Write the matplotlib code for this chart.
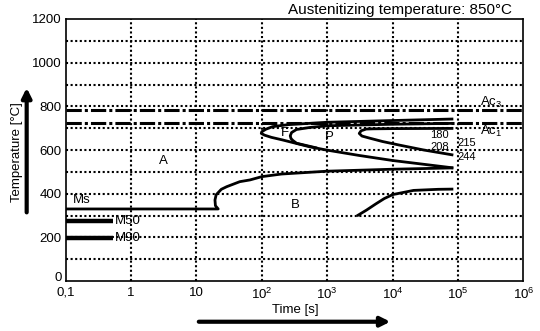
import numpy as np
import matplotlib
matplotlib.use("Agg")
import matplotlib.pyplot as plt
import matplotlib.transforms as mtransforms

plt.rcParams['font.family'] = ['Liberation Sans', 'DejaVu Sans']
plt.rcParams['mathtext.fontset'] = 'custom'
plt.rcParams['mathtext.rm'] = 'Liberation Sans'

# --- data (time in s, temperature in C) ---
ac3_temp = 782
ac1_temp = 724
ms_temp = 330
m50_temp = 276
m90_temp = 195
m_end_time = 0.52

# Ms line + bainite start curve
bs_time = [0.1, 21.5, 19.5, 19.2, 20, 24, 29, 46, 66, 100, 200, 1000, 10000, 85000]
bs_temp = [ms_temp, ms_temp, 345, 371, 395, 420, 432, 455, 463, 478, 490, 503, 512, 518]

# bainite finish
bf_time = [2840, 4000, 5530, 7500, 10100, 20900, 50000, 85000]
bf_temp = [298, 325, 353, 378, 396, 415, 420, 421]

# ferrite start (outer C-curve): upper branch -> nose -> lower branch
f_time = [85000, 10000, 1000, 250, 146, 115, 100, 98, 110, 140, 208, 535, 970, 3090, 10000, 85000]
f_temp = [742, 735, 727, 716, 707, 695, 684, 676, 668, 658, 646, 615, 600, 575, 552, 518]

# pearlite start curve
p_time = [85000, 10000, 1000, 535, 339, 285, 272, 280, 300, 340, 457, 700]
p_temp = [722, 718, 711, 703, 694, 680, 665, 652, 643, 631, 622, 609]

# pearlite finish curve (180/208)
pf_time = [85000, 10000, 5000, 3950, 3300, 3090, 3400, 4370, 7000, 12500, 30000, 85000]
pf_temp = [699, 698, 697, 696, 688, 676, 664, 655, 639, 623, 600, 577]

xticks = [0.1, 1, 10, 1e2, 1e3, 1e4, 1e5, 1e6]
xticklabels = ['0,1', '1', '10', r'10$^\mathregular{2}$', r'10$^\mathregular{3}$',
               r'10$^\mathregular{4}$', r'10$^\mathregular{5}$', r'10$^\mathregular{6}$']
yticks = [0, 200, 400, 600, 800, 1000, 1200]

fig = plt.figure(figsize=(5.4, 3.31), dpi=100)
ax = fig.add_axes([0.1217, 0.151, 0.8474, 0.7916])

ax.set_xscale('log')
ax.set_xlim(0.1, 1e6)
ax.set_ylim(0, 1200)

# dotted grid
for t in xticks[1:-1]:
    ax.axvline(t, color='black', lw=1.5, ls=(0, (1, 1.2)), zorder=1)
for T in range(100, 1200, 100):
    ax.axhline(T, color='black', lw=1.5, ls=(0, (1, 1.2)), zorder=1)

# critical temperatures
ax.axhline(ac3_temp, color='black', lw=2.2, ls=(0, (5, 1, 1, 1)), zorder=2)
ax.axhline(ac1_temp, color='black', lw=2.2, ls=(0, (5, 1, 1, 1)), zorder=2)

# martensite lines
ax.plot([0.1, m_end_time], [m50_temp, m50_temp], color='black', lw=3.2, solid_capstyle='butt')
ax.plot([0.1, m_end_time], [m90_temp, m90_temp], color='black', lw=3.2, solid_capstyle='butt')

for tt, TT in [(bs_time, bs_temp), (bf_time, bf_temp), (f_time, f_temp),
               (p_time, p_temp), (pf_time, pf_temp)]:
    ax.plot(tt, TT, color='black', lw=2.0, zorder=3, solid_capstyle='butt')

fs = 9.5
ax.text(0.13, 371, 'Ms', fontsize=fs, va='center')
ax.text(0.57, m50_temp, 'M50', fontsize=fs, va='center')
ax.text(0.57, m90_temp, 'M90', fontsize=fs, va='center')
ax.text(3.1, 550, 'A', fontsize=fs, ha='center', va='center')
ax.text(320, 348, 'B', fontsize=fs, ha='center', va='center')
ax.text(225, 678, 'F', fontsize=fs, ha='center', va='center')
ax.text(1060, 660, 'P', fontsize=fs, ha='center', va='center')
ax.text(72600, 669, '180', fontsize=8, ha='right', va='center')
ax.text(72600, 614, '208', fontsize=8, ha='right', va='center')
ax.text(99000, 632, '215', fontsize=8, ha='left', va='center')
ax.text(99000, 568, '244', fontsize=8, ha='left', va='center')
ax.text(216000, 820, r'Ac$_\mathregular{3}$', fontsize=fs, va='center')
ax.text(216000, 683, r'Ac$_\mathregular{1}$', fontsize=fs, va='center')

ax.set_xticks(xticks)
ax.set_xticklabels(xticklabels)
ax.xaxis.set_minor_locator(matplotlib.ticker.NullLocator())
ax.set_yticks(yticks)
ax.tick_params(length=0, labelsize=fs)
ax.tick_params(axis='x', pad=4)
ax.tick_params(axis='y', pad=3)
for s in ax.spines.values():
    s.set_linewidth(1.2)

# lift the "0" label a little, as in the original, so it clears "0,1"
zero_lbl = ax.get_yticklabels()[0]
zero_lbl.set_transform(zero_lbl.get_transform() +
                       mtransforms.ScaledTranslation(0, 3 / 72, fig.dpi_scale_trans))

fig.text(0.948, 0.97, 'Austenitizing temperature: 850°C', fontsize=11, ha='right', va='center')
fig.text(0.546, 0.062, 'Time [s]', fontsize=fs, ha='center', va='center')
fig.text(0.031, 0.541, 'Temperature [°C]', fontsize=fs, rotation=90, ha='center', va='center')

# direction arrows
fig.add_artist(matplotlib.patches.FancyArrowPatch(
    (0.363, 0.028), (0.728, 0.028), transform=fig.transFigure,
    arrowstyle='-|>', mutation_scale=14, lw=3, color='black'))
fig.add_artist(matplotlib.patches.FancyArrowPatch(
    (0.0494, 0.350), (0.0494, 0.743), transform=fig.transFigure,
    arrowstyle='-|>', mutation_scale=14, lw=3, color='black'))

fig.savefig('out.png', dpi=100)
